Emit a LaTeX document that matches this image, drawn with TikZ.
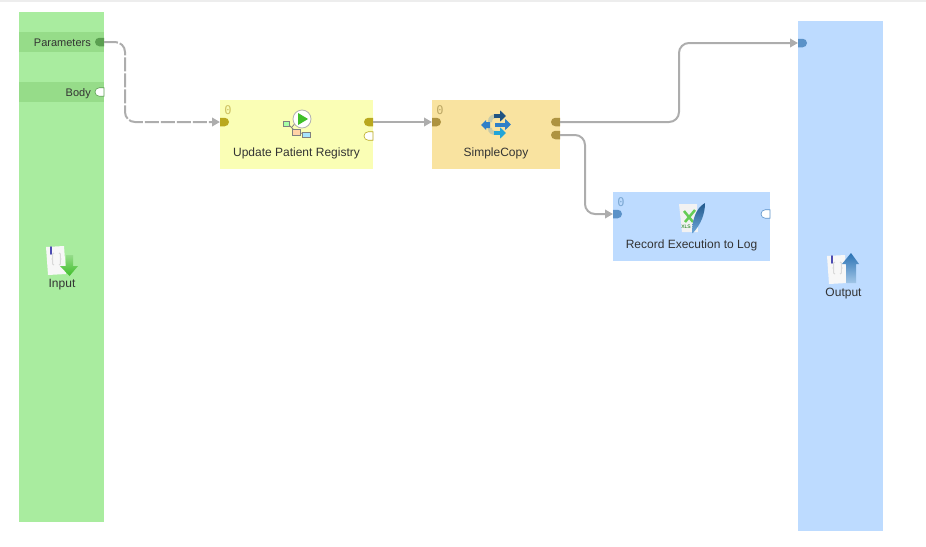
\documentclass[tikz,border=0pt]{standalone}
\usepackage{fontspec}
\setmainfont{Liberation Sans}
\newfontfamily\zerofont{DejaVu Sans Mono}
\usetikzlibrary{arrows.meta, shapes.misc}

\definecolor{PanelGreen}{HTML}{A9EC9F}
\definecolor{RowGreen}{HTML}{96DC89}
\definecolor{PortGreen}{HTML}{5A9F50}
\definecolor{PanelBlue}{HTML}{BDDBFF}
\definecolor{PortBlue}{HTML}{5B92C8}
\definecolor{BlockYellow}{HTML}{FAFEB5}
\definecolor{PortYellow}{HTML}{B9A81F}
\definecolor{BlockOrange}{HTML}{F9E3A0}
\definecolor{PortOrange}{HTML}{AE9340}
\definecolor{LinkGray}{HTML}{ADADAD}
\definecolor{LabelGray}{HTML}{333333}
\definecolor{ArrowBlue}{HTML}{2F7FC8}
\definecolor{ArrowGreen}{HTML}{3FBF2A}

\tikzset{
  panel/.style={inner sep=0pt, outer sep=0pt},
  label/.style={font=\fontsize{12}{14}\selectfont, text=LabelGray, inner sep=0pt},
  rowlabel/.style={font=\fontsize{11}{13}\selectfont, text=LabelGray, inner sep=0pt, anchor=east},
  zero/.style={font=\zerofont\fontsize{12}{14}\selectfont, inner sep=0pt},
  portin/.style={rounded rectangle, rounded rectangle left arc=none, minimum width=9pt, minimum height=8.5pt, inner sep=0pt, outer sep=0pt},
  portout/.style={rounded rectangle, rounded rectangle right arc=none, minimum width=9pt, minimum height=8.5pt, inner sep=0pt, outer sep=0pt},
  link/.style={LinkGray, line width=2pt, rounded corners=10pt, -{Triangle[length=8pt,width=8.5pt]}},
}

\newcommand{\pageicon}[2]{
  \fill[white!94!gray] (#1,#2) -- ++(18,-1) -- ++(2,28) -- ++(-18,1) -- cycle;
  \draw[gray!30, line width=1pt] (#1+8,#2+18) .. controls (#1+5,#2+18) and (#1+8,#2+12) .. (#1+6,#2+12) .. controls (#1+8,#2+12) and (#1+5,#2+6) .. (#1+8,#2+6);
  \draw[gray!30, line width=1pt] (#1+13,#2+18) .. controls (#1+16,#2+18) and (#1+13,#2+12) .. (#1+15,#2+12) .. controls (#1+13,#2+12) and (#1+16,#2+6) .. (#1+13,#2+6);
  \draw[blue!40!gray, line width=1.6pt, line cap=round] (#1+5,#2) -- (#1+5,#2+7);
}

\begin{document}
\begin{tikzpicture}[x=1pt, y=-1pt]
    \useasboundingbox (0,0) rectangle (926,546);
    \fill[black!7] (0,0) rectangle (926,2);

    \node[panel, fill=PanelGreen, minimum width=85pt, minimum height=510pt] (inputpanel) at (61.5,267) {};
    \node[panel, fill=PanelBlue, minimum width=85pt, minimum height=510pt] (outputpanel) at (840.5,276) {};
    \node[panel, fill=RowGreen, minimum width=85pt, minimum height=20pt] (paramsrow) at (61.5,42) {};
    \node[panel, fill=RowGreen, minimum width=85pt, minimum height=20pt] (bodyrow) at (61.5,92) {};

    \node[panel, fill=BlockYellow, minimum width=153pt, minimum height=69pt] (update) at (296.5,134.5) {};
    \node[panel, fill=BlockOrange, minimum width=128pt, minimum height=69pt] (copy) at (496,134.5) {};
    \node[panel, fill=PanelBlue, minimum width=157pt, minimum height=69pt] (record) at (691.5,226.5) {};

    \node[rowlabel] (paramslabel) at (91,42.5) {Parameters};
    \node[rowlabel] (bodylabel) at (91,93.5) {Body};
    \node[label] (inputlabel) at (62,284.5) {Input};
    \node[label] (outputlabel) at (843.5,293.5) {Output};
    \node[label] (updatelabel) at (296.5,153) {Update Patient Registry};
    \node[label] (copylabel) at (496,153) {SimpleCopy};
    \node[label] (recordlabel) at (691.5,245) {Record Execution to Log};

    \node[zero, text=PortYellow!70] (updatezero) at (228,110.5) {0};
    \node[zero, text=PortOrange!80] (copyzero) at (440,110.5) {0};
    \node[zero, text=PortBlue!80] (recordzero) at (621,202.5) {0};

    \node[portout, fill=PortGreen] (paramsport) at (99.5,42) {};
    \node[portout, fill=white, draw=PortGreen, line width=0.6pt] (bodyport) at (99.5,92) {};
    \node[portin, fill=PortYellow] (updatein) at (224.5,122) {};
    \node[portout, fill=PortYellow] (updateout) at (368.5,122) {};
    \node[portout, fill=white, draw=PortYellow, line width=0.6pt] (updateopen) at (368.5,136) {};
    \node[portin, fill=PortOrange] (copyin) at (436.5,122) {};
    \node[portout, fill=PortOrange] (copyouta) at (555.5,122) {};
    \node[portout, fill=PortOrange] (copyoutb) at (555.5,135) {};
    \node[portin, fill=PortBlue] (recordin) at (617.5,214) {};
    \node[portout, fill=white, draw=PortBlue, line width=0.6pt] (recordopen) at (765.5,214) {};
    \node[portin, fill=PortBlue] (outputin) at (802.5,43) {};

    \draw[link, dash pattern=on 14pt off 2pt] (paramsport.east) -- ++(21,0) |- (updatein.west);
    \draw[link] (updateout.east) -- (copyin.west);
    \draw[link] (copyouta.east) -- ++(119,0) |- (outputin.west);
    \draw[link] (copyoutb.east) -- ++(25,0) |- (recordin.west);

    % input and output icons
    \pageicon{46}{247}
    \shade[top color=ArrowGreen!55, bottom color=ArrowGreen] (66,255) -- (73,255) -- (73,266) -- (78,266) -- (69.5,276) -- (60,266) -- (66,266) -- cycle;
    \pageicon{827}{256}
    \shade[top color=ArrowBlue!90!black, bottom color=white!55!ArrowBlue] (846,283) -- (856,283) -- (856,264) -- (859,264) -- (851,253) -- (842,264) -- (846,264) -- cycle;

    % registry icon
    \draw[gray, line width=0.8pt] (288,124) -- (296,132) -- (305,134);
    \draw[gray, line width=0.8pt] (292,127) -- (298,120);
    \draw[gray, fill=green!35, line width=0.5pt] (283,121) rectangle (289,126);
    \draw[gray, fill=orange!35, line width=0.5pt] (292,129) rectangle (300,135);
    \draw[gray, fill=blue!30!cyan!35, line width=0.5pt] (302,132) rectangle (310,137);
    \draw[gray!60, fill=white, line width=0.8pt] (302,119) circle (9);
    \fill[ArrowGreen] (298,113) -- (308,119) -- (298,125) -- cycle;

    % copy icon
    \draw[ArrowBlue!25!BlockOrange, line width=4pt] (490,128) .. controls (490,132) and (492,133) .. (497,133);
    \draw[ArrowBlue!25!BlockOrange, line width=4pt] (490,122) .. controls (490,118) and (492,116) .. (497,116);
    \fill[ArrowBlue] (481,125) -- (486,120) -- (486,122) -- (490,122) -- (490,128) -- (486,128) -- (486,130) -- cycle;
    \draw[ArrowBlue!65!black, line width=4pt, -{Triangle[length=6pt,width=11pt]}] (494,116) -- (506,116);
    \draw[ArrowBlue, line width=4pt, -{Triangle[length=6pt,width=11pt]}] (495,124.5) -- (511,124.5);
    \draw[ArrowBlue!70!cyan, line width=4pt, -{Triangle[length=6pt,width=11pt]}] (494,133) -- (506,133);

    % log icon
    \fill[white!90!gray] (679,204) -- (697,204) -- (698,232) -- (682,232) -- cycle;
    \draw[ArrowGreen!80, line width=2.5pt] (684,211) -- (693,222);
    \draw[ArrowGreen!80, line width=2.5pt] (695,210) -- (685,222);
    \node[font=\fontsize{5}{6}\selectfont, text=green!45!black, inner sep=0pt] (xlslabel) at (686,227) {XLS};
    \shade[top color=ArrowBlue!70!black, bottom color=ArrowBlue!70] (692,233) .. controls (692,220) and (696,208) .. (705,203) .. controls (705,214) and (701,224) .. (693,233) -- cycle;
\end{tikzpicture}
\end{document}
